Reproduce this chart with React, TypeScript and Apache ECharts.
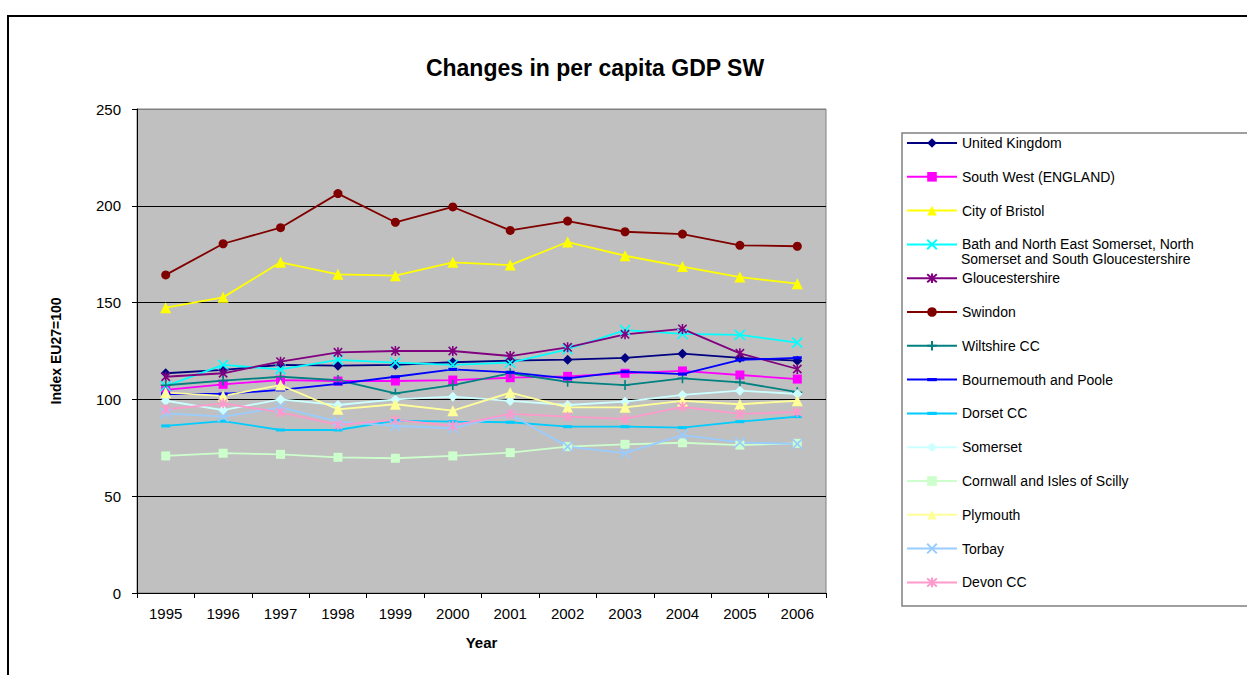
import React, { useEffect, useRef } from "react";
import * as echarts from "echarts";

const years = ["1995", "1996", "1997", "1998", "1999", "2000", "2001", "2002", "2003", "2004", "2005", "2006"];

const unitedKingdom = [113.5, 115.2, 117.8, 117.4, 117.8, 119.2, 120.0, 120.5, 121.4, 123.6, 121.4, 120.0];
const southWest = [104.9, 107.8, 110.0, 109.5, 109.5, 110.0, 111.2, 111.9, 113.5, 114.7, 112.6, 110.5];
const cityOfBristol = [147.4, 152.7, 170.8, 164.6, 163.9, 170.8, 169.4, 181.3, 174.2, 168.6, 163.2, 159.8];
const bathNES = [106.9, 117.8, 115.5, 120.4, 119.0, 117.8, 119.0, 125.9, 135.8, 133.8, 133.3, 129.3];
const gloucestershire = [111.7, 113.5, 119.5, 124.3, 125.0, 125.0, 122.4, 126.9, 133.6, 136.4, 123.8, 115.7];
const swindon = [164.3, 180.4, 188.7, 206.3, 191.5, 199.4, 187.3, 192.1, 186.6, 185.4, 179.6, 179.1];
const wiltshire = [107.3, 109.7, 111.7, 110.0, 103.1, 107.4, 113.5, 109.1, 107.4, 110.9, 108.8, 103.7];
const bournemouth = [102.8, 102.8, 104.9, 108.0, 111.7, 115.5, 114.0, 110.9, 114.3, 113.1, 120.4, 121.5];
const dorset = [86.3, 88.8, 84.2, 84.2, 89.0, 88.5, 88.2, 85.9, 85.9, 85.4, 88.5, 91.1];
const somerset = [99.3, 94.5, 100.0, 97.1, 100.0, 101.4, 99.2, 97.1, 98.8, 102.3, 104.5, 102.8];
const cornwall = [70.8, 72.2, 71.6, 70.1, 69.6, 70.8, 72.5, 75.6, 76.8, 77.6, 76.4, 77.3];
const plymouth = [103.5, 101.8, 107.4, 94.9, 97.5, 94.2, 103.5, 95.9, 95.9, 99.2, 97.5, 99.3];
const torbay = [92.8, 91.1, 95.9, 88.5, 86.3, 85.1, 92.3, 75.6, 72.2, 81.6, 77.8, 77.0];
const devon = [94.9, 98.0, 93.3, 86.8, 89.4, 86.4, 92.5, 91.1, 89.9, 96.2, 92.5, 93.5];

const yTicks = [0, 50, 100, 150, 200, 250];

const FONT = "'Liberation Sans', Arial, sans-serif";

const X_PATH = "path://M0,0L10,10M10,0L0,10";
const STAR_PATH = "path://M0,0L10,10M10,0L0,10M5,-1L5,11";
const PLUS_PATH = "path://M5,0L5,10M0,5L10,5";
const DASH_PATH = "path://M0,-3L0,-3M0,0L9,0L9,3L0,3ZM9,6L9,6";

type Def = { name: string; data: number[]; color: string; symbol: string; size: number; stroke?: boolean; label?: string };

const defs: Def[] = [
  { name: "United Kingdom", data: unitedKingdom, color: "#000080", symbol: "diamond", size: 10 },
  { name: "South West (ENGLAND)", data: southWest, color: "#FF00FF", symbol: "rect", size: 9 },
  { name: "City of Bristol", data: cityOfBristol, color: "#FFFF00", symbol: "triangle", size: 11 },
  { name: "Bath and North East Somerset, North Somerset and South Gloucestershire", data: bathNES, color: "#00FFFF", symbol: X_PATH, size: 10, stroke: true, label: "Bath and North East Somerset, North" },
  { name: "Gloucestershire", data: gloucestershire, color: "#800080", symbol: STAR_PATH, size: 10, stroke: true },
  { name: "Swindon", data: swindon, color: "#800000", symbol: "circle", size: 9 },
  { name: "Wiltshire CC", data: wiltshire, color: "#008080", symbol: PLUS_PATH, size: 10, stroke: true },
  { name: "Bournemouth and Poole", data: bournemouth, color: "#0000FF", symbol: DASH_PATH, size: 9 },
  { name: "Dorset CC", data: dorset, color: "#00CCFF", symbol: DASH_PATH, size: 9 },
  { name: "Somerset", data: somerset, color: "#CCFFFF", symbol: "diamond", size: 10 },
  { name: "Cornwall and Isles of Scilly", data: cornwall, color: "#CCFFCC", symbol: "rect", size: 9 },
  { name: "Plymouth", data: plymouth, color: "#FFFF99", symbol: "triangle", size: 11 },
  { name: "Torbay", data: torbay, color: "#99CCFF", symbol: X_PATH, size: 10, stroke: true },
  { name: "Devon CC", data: devon, color: "#FF99CC", symbol: STAR_PATH, size: 10, stroke: true },
];

export default function App() {
  const ref = useRef<HTMLDivElement>(null);
  useEffect(() => {
    if (!ref.current) return;
    const chart = echarts.init(ref.current, null, { renderer: "svg" });
    const series = defs.map((d) => ({
      type: "line",
      name: d.name,
      data: d.data,
      symbol: d.symbol,
      symbolSize: d.size,
      symbolKeepAspect: true,
      showAllSymbol: true,
      lineStyle: { color: d.color, width: 1.8 },
      itemStyle: d.stroke
        ? { color: d.color, borderColor: d.color, borderWidth: 1.6 }
        : { color: d.color, borderWidth: 0 },
      emphasis: { disabled: true },
    }));
    const labelMap: Record<string, string> = {};
    defs.forEach((d) => (labelMap[d.name] = d.label || d.name));
    chart.setOption({
      animation: false,
      backgroundColor: "#ffffff",
      textStyle: { fontFamily: FONT },
      title: {
        text: "Changes in per capita GDP SW",
        left: 590,
        textAlign: "center",
        top: 51,
        textStyle: { fontSize: 23, fontWeight: "bold", color: "#000", fontFamily: FONT },
      },
      graphic: [
        {
          type: "rect",
          shape: { x: 8, y: 16, width: 1400, height: 800 },
          style: { fill: "none", stroke: "#000", lineWidth: 2 },
          z: -1,
        },
        {
          type: "rect",
          shape: { x: 902, y: 133, width: 400, height: 473 },
          style: { fill: "#fff", stroke: "#808080", lineWidth: 1.5 },
          z: 0,
        },
        {
          type: "text",
          x: 961,
          y: 259,
          style: {
            text: "Somerset and South Gloucestershire",
            font: "14px " + FONT,
            fill: "#000",
            textVerticalAlign: "middle",
          },
          z: 10,
        },
      ],
      legend: {
        orient: "vertical",
        left: 906,
        top: 136,
        itemWidth: 50,
        itemHeight: 12,
        itemGap: 19.8,
        padding: 0,
        textStyle: { fontSize: 14, color: "#000", lineHeight: 14, fontFamily: FONT },
        formatter: (n: string) => labelMap[n],
        data: defs.map((d) => d.name),
        selectedMode: false,
        z: 5,
      },
      grid: {
        left: 137,
        top: 109,
        width: 689,
        height: 484,
        show: true,
        backgroundColor: "#C0C0C0",
        borderColor: "#808080",
        borderWidth: 1,
      },
      xAxis: {
        type: "category",
        data: years,
        boundaryGap: true,
        name: "Year",
        nameLocation: "middle",
        nameGap: 42,
        nameTextStyle: { fontSize: 15, fontWeight: "bold", color: "#000", fontFamily: FONT },
        axisLine: { lineStyle: { color: "#000", width: 1 } },
        axisTick: { show: true, length: 5, lineStyle: { color: "#000" } },
        axisLabel: { fontSize: 15, color: "#000", margin: 13, fontFamily: FONT },
      },
      yAxis: {
        type: "value",
        min: yTicks[0],
        max: yTicks[yTicks.length - 1],
        interval: 50,
        name: "Index EU27=100",
        nameLocation: "middle",
        nameGap: 74,
        nameTextStyle: { fontSize: 14, fontWeight: "bold", color: "#000", fontFamily: FONT },
        axisLine: { show: true, lineStyle: { color: "#000", width: 1 } },
        axisTick: { show: true, length: 5, lineStyle: { color: "#000" } },
        axisLabel: { fontSize: 15, color: "#000", margin: 16, fontFamily: FONT },
        splitLine: {
          show: true,
          lineStyle: { color: ["#000", "#000", "#000", "#000", "#000", "#808080"], width: 1 },
        },
      },
      series,
    });
    return () => chart.dispose();
  }, []);
  return <div ref={ref} style={{ width: 1247, height: 675, position: "absolute", left: 0, top: 0 }} />;
}
